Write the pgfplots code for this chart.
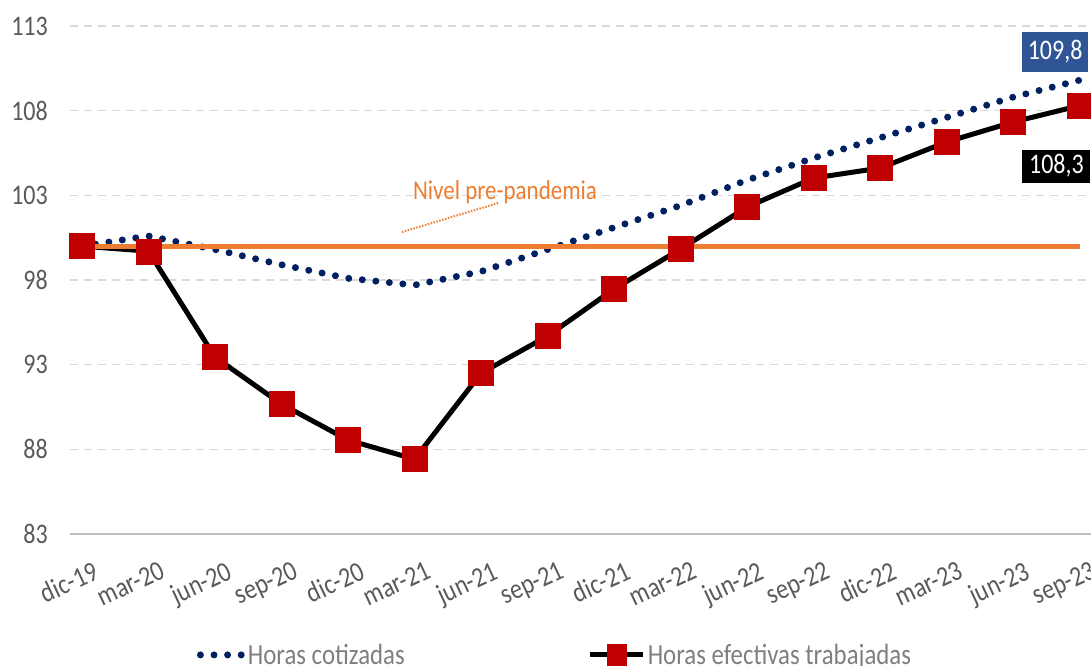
\documentclass[border=0pt]{standalone}
\usepackage{pgfplots}
\usepackage{pgfplotstable}
\pgfplotsset{compat=1.18}
\usepackage{fontspec}
\setmainfont{Carlito}
\definecolor{tickgray}{HTML}{595959}
\definecolor{leggray}{HTML}{7F7F7F}
\definecolor{gridgray}{HTML}{D9D9D9}
\definecolor{axisgray}{HTML}{BFBFBF}
\definecolor{navy}{HTML}{002060}
\definecolor{darkred}{HTML}{C00000}
\definecolor{orangeL}{HTML}{ED7D31}
\definecolor{boxblue}{HTML}{2F5597}
\newcommand{\vs}[1]{\scalebox{1}[1.18]{#1}}
\pgfplotstableread{
x cot efe
0 100.0 100.0
1 100.6 99.7
2 99.8 93.45
3 98.9 90.67
4 98.1 88.55
5 97.7 87.42
6 98.5 92.5
7 99.8 94.69
8 101.1 97.47
9 102.4 99.83
10 103.9 102.31
11 105.2 104.02
12 106.4 104.61
13 107.6 106.15
14 108.8 107.33
15 109.8 108.3
}\datatable
\begin{document}
\begin{tikzpicture}
\begin{axis}[
  at={(0,0)}, anchor=south west,
  scale only axis, width=1021bp, height=508bp,
  xmin=-0.18, xmax=15.17, ymin=83, ymax=113,
  ytick={83,88,93,98,103,108,113},
  yticklabel={\vs{\pgfmathprintnumber{\tick}}},
  xtick={0,...,15},
  xticklabels={\vs{dic-19},\vs{mar-20},\vs{jun-20},\vs{sep-20},\vs{dic-20},\vs{mar-21},\vs{jun-21},\vs{sep-21},\vs{dic-21},\vs{mar-22},\vs{jun-22},\vs{sep-22},\vs{dic-22},\vs{mar-23},\vs{jun-23},\vs{sep-23}},
  separate axis lines,
  axis x line*=bottom, axis y line*=left,
  y axis line style={draw=none},
  x axis line style={draw=axisgray, line width=1.5bp},
  major tick length=0pt,
  ymajorgrids,
  grid style={gridgray, line width=1.5bp, dash pattern=on 8bp off 6bp},
  /pgf/number format/assume math mode=true,
  yticklabel style={font=\fontsize{24bp}{28bp}\selectfont, text=tickgray, anchor=east, inner sep=0pt, xshift=-22bp},
  xticklabel style={font=\fontsize{24bp}{28bp}\selectfont, text=tickgray, rotate=25, anchor=north east, inner sep=0pt, yshift=-28bp, xshift=-2bp},
  legend columns=2,
  legend style={at={(0.475,-0.238)}, anchor=center, draw=none, fill=none,
    font=\fontsize{24.8bp}{29bp}\selectfont, text=leggray,
    /tikz/every even column/.append style={column sep=181bp}},
]
\addplot[navy, line width=7bp, line cap=round, dash pattern=on 0bp off 13.6bp,
  legend image code/.code={\draw[navy, line width=7bp, line cap=round, dash pattern=on 0bp off 13.6bp] (0bp,0bp) -- (42bp,0bp);}]
  table[x=x, y=cot] {\datatable};
\addlegendentry{\vs{Horas cotizadas}}
\addplot[black, line width=5bp,
  legend image code/.code={\draw[black, line width=5bp] (0bp,0bp) -- (53bp,0bp); \fill[darkred] (19bp,-8.5bp) rectangle (34bp,8.5bp);}]
  table[x=x, y=efe] {\datatable};
\addlegendentry{\vs{Horas efectivas trabajadas}}
\addplot[only marks, forget plot, mark=square*, mark size=12.5bp, mark options={fill=darkred, draw=darkred}]
  table[x=x, y=efe] {\datatable};
\addplot[orangeL, line width=5bp, forget plot] coordinates {(0,100) (15,100)};
\node[fill=boxblue, text=white, inner sep=0pt, minimum width=66bp, minimum height=40bp, font=\fontsize{24bp}{28bp}\selectfont] at (axis cs:14.63,111.46) {\vs{109,8}};
\node[fill=black, text=white, inner sep=0pt, minimum width=68bp, minimum height=33bp, font=\fontsize{24bp}{28bp}\selectfont] at (axis cs:14.65,104.73) {\vs{108,3}};
\node[text=orangeL, inner sep=0pt, font=\fontsize{23bp}{27bp}\selectfont] at (axis cs:6.36,103.2) {\vs{Nivel pre-pandemia}};
\draw[orangeL, line width=2bp, dash pattern=on 1.5bp off 1.5bp] (axis cs:4.81,100.83) -- (axis cs:6.26,102.55);
\end{axis}
\pgfresetboundingbox
\path[use as bounding box] (-70bp,-132bp) rectangle (1021bp,534bp);
\end{tikzpicture}
\end{document}
